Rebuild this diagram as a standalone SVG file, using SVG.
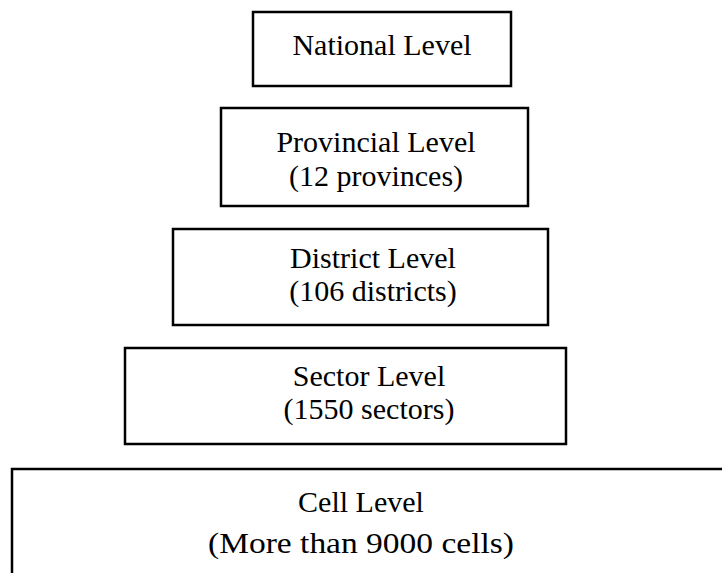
<svg xmlns="http://www.w3.org/2000/svg" width="722" height="573" viewBox="0 0 722 573">
<style>
.box{fill:#fff;stroke:#000;stroke-width:2.5}
.t{font-family:"Liberation Serif","Times New Roman",serif;font-size:30px;fill:#000;text-anchor:middle}
</style>
<rect width="722" height="573" fill="#fff"/>
<g id="national">
<rect class="box" x="253" y="12" width="258" height="74"/>
<text class="t" x="382" y="55">National Level</text>
</g>
<g id="provincial">
<rect class="box" x="221" y="108" width="307" height="98"/>
<text class="t" x="376" y="152">Provincial Level</text>
<text class="t" x="376" y="186">(12 provinces)</text>
</g>
<g id="district">
<rect class="box" x="173" y="229" width="375" height="96"/>
<text class="t" x="373" y="268">District Level</text>
<text class="t" x="373" y="301">(106 districts)</text>
</g>
<g id="sector">
<rect class="box" x="125" y="348" width="441" height="96"/>
<text class="t" x="369" y="386">Sector Level</text>
<text class="t" x="369" y="419">(1550 sectors)</text>
</g>
<g id="cell">
<rect class="box" x="12" y="469" width="760" height="130"/>
<text class="t" x="361" y="512">Cell Level</text>
<text class="t" x="361" y="553" textLength="306" lengthAdjust="spacingAndGlyphs">(More than 9000 cells)</text>
</g>
<g id="connectors"></g>
</svg>
